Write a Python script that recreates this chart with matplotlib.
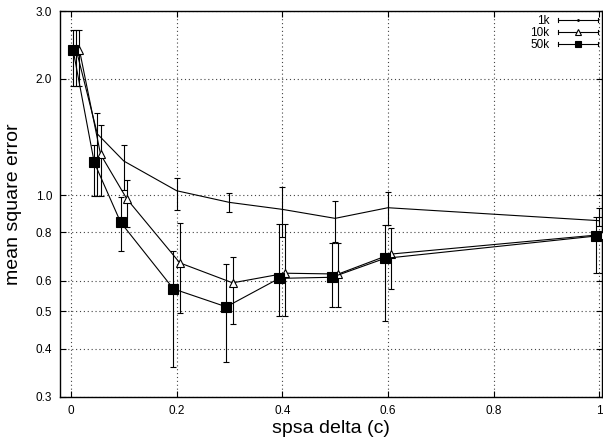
import matplotlib
matplotlib.use("Agg")
import matplotlib.pyplot as plt
from matplotlib.legend_handler import HandlerBase
from matplotlib.lines import Line2D

plt.rcParams["font.family"] = ["Liberation Sans", "DejaVu Sans"]

# spsa delta values
delta = [0.01, 0.05, 0.1, 0.2, 0.3, 0.4, 0.5, 0.6, 1.0]

mse_1k = [2.38, 1.44, 1.225, 1.026, 0.957, 0.918, 0.87, 0.927, 0.858]
lo_1k = [1.92, 0.994, 1.03, 0.914, 0.904, 0.777, 0.757, 0.836, 0.83]
hi_1k = [2.68, 1.63, 1.35, 1.104, 1.014, 1.047, 0.965, 1.016, 0.926]

mse_10k = [2.38, 1.275, 0.976, 0.667, 0.592, 0.627, 0.624, 0.703, 0.79]
lo_10k = [1.92, 0.994, 0.828, 0.494, 0.463, 0.486, 0.512, 0.57, 0.629]
hi_10k = [2.68, 1.52, 1.093, 0.845, 0.692, 0.839, 0.75, 0.823, 0.879]

mse_50k = [2.38, 1.215, 0.85, 0.571, 0.513, 0.608, 0.612, 0.685, 0.783]
lo_50k = [1.92, 0.994, 0.717, 0.359, 0.37, 0.486, 0.512, 0.47, 0.629]
hi_50k = [2.68, 1.35, 0.99, 0.717, 0.661, 0.839, 0.75, 0.836, 0.879]

series_labels = ["1k", "10k", "50k"]
x_ticks = [0, 0.2, 0.4, 0.6, 0.8, 1.0]
x_ticklabels = ["0", "0.2", "0.4", "0.6", "0.8", "1"]
y_ticks = [0.3, 0.4, 0.5, 0.6, 0.8, 1.0, 2.0, 3.0]


class HandlerHorizErr(HandlerBase):
    # gnuplot-style key: horizontal line with end caps, marker in the middle
    def create_artists(self, legend, orig_handle, xdescent, ydescent,
                       width, height, fontsize, trans):
        y = height / 2 - ydescent
        x0, x1 = -xdescent, width - xdescent
        cap = height * 0.3
        arts = [Line2D([x0, x1], [y, y], color="black", lw=0.8),
                Line2D([x0, x0], [y - cap, y + cap], color="black", lw=0.8),
                Line2D([x1, x1], [y - cap, y + cap], color="black", lw=0.8)]
        mk = Line2D([(x0 + x1) / 2], [y], linestyle="none",
                    marker=orig_handle.get_marker(),
                    markersize=orig_handle.get_markersize(),
                    markerfacecolor=orig_handle.get_markerfacecolor(),
                    markeredgecolor="black", markeredgewidth=0.8)
        arts.append(mk)
        for a in arts:
            a.set_transform(trans)
        return arts


fig = plt.figure(figsize=(6.03, 4.47), dpi=100)
ax = fig.add_axes([60.4 / 603, 50.3 / 447, 541.5 / 603, 385.7 / 447])

specs = [
    (mse_1k, lo_1k, hi_1k, 0.0, dict(marker=None), 1.2),
    (mse_10k, lo_10k, hi_10k, 0.006,
     dict(marker="^", markersize=6, markerfacecolor="white"), 5),
    (mse_50k, lo_50k, hi_50k, -0.006,
     dict(marker="s", markersize=7, markerfacecolor="black"), 5),
]
handles = []
for (m, lo, hi, off, mk, key_ms), lab in zip(specs, series_labels):
    xs = [d + off for d in delta]
    yerr = [[v - l for v, l in zip(m, lo)], [h - v for v, h in zip(m, hi)]]
    ax.errorbar(xs, m, yerr=yerr, color="black", ecolor="black", lw=0.8,
                elinewidth=0.8, capsize=2.5, capthick=0.8, markeredgecolor="black",
                markeredgewidth=0.8, clip_on=False, zorder=3, **mk)
    h = Line2D([], [], color="black", lw=0.8,
               marker=mk["marker"] if mk["marker"] else "o",
               markersize=key_ms,
               markerfacecolor=mk.get("markerfacecolor", "black"))
    handles.append(h)

ax.set_yscale("log")
ax.set_xlim(-0.02, 1.005)
ax.set_ylim(0.3, 3.0)
ax.set_xticks(x_ticks)
ax.set_xticklabels(x_ticklabels)
ax.set_yticks(y_ticks)
ax.set_yticklabels([f"{v:.1f}" for v in y_ticks])
ax.minorticks_off()
ax.tick_params(direction="in", length=4, width=0.8, labelsize=8.5,
               top=True, right=True, pad=6)
ax.grid(True, color="#444444", linestyle=(0, (1, 2.5)), linewidth=0.8)
for s in ax.spines.values():
    s.set_linewidth(1.0)

ax.set_xlabel("spsa delta (c)", fontsize=14, labelpad=2)
ax.set_ylabel("mean square error", fontsize=14, labelpad=10)

leg = ax.legend(handles, series_labels, loc="upper right", frameon=False,
                markerfirst=False, fontsize=8.5, handlelength=3.4,
                handletextpad=0.7, labelspacing=0.0, borderaxespad=0.05,
                borderpad=0.3, handler_map={Line2D: HandlerHorizErr()})
for t in leg.get_texts():
    t.set_ha("right")

fig.savefig("out.png", dpi=100)
